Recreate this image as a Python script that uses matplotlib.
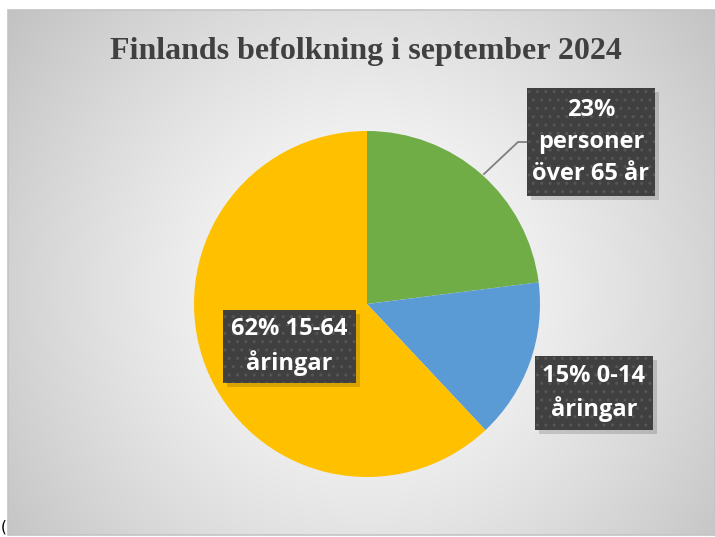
import numpy as np
import matplotlib
matplotlib.use("Agg")
import matplotlib.pyplot as plt
from matplotlib.patches import Rectangle

# ---- data ----
title = "Finlands befolkning i september 2024"
categories = ["personer\növer 65 år", "0-14\nåringar", "15-64\nåringar"]
shares = [23, 15, 62]
colors = ["#70AD47", "#5B9BD5", "#FFC000"]

W, H = 715, 537
fig = plt.figure(figsize=(W / 100, H / 100), dpi=100)
ax = fig.add_axes([0, 0, 1, 1])

# chart area with radial gradient
x0, x1, yt, yb = 8, 715, 10, 535
gx = np.linspace(x0, x1, 400)
gy = np.linspace(yt, yb, 300)
GX, GY = np.meshgrid(gx, gy)
d = np.sqrt((GX - 367) ** 2 + (GY - 290) ** 2) / 470.0
d = np.clip(d, 0, 1)
val = 1.0 - 0.25 * d ** 1.3
img = np.dstack([val, val, val])
ax.imshow(img, extent=[x0, x1, H - yb, H - yt], origin="upper", zorder=0, interpolation="bilinear")
ax.add_patch(Rectangle((x0, H - yb), x1 - x0, yb - yt, fill=False, ec="#c4c4c4", lw=1.2, zorder=1))

# pie
cx, cy, r = 367, H - 304, 173
ax.pie(shares, colors=colors, startangle=90, counterclock=False, center=(cx, cy), radius=r,
       wedgeprops=dict(linewidth=0), frame=True)
ax.set_xlim(0, W)
ax.set_ylim(0, H)
ax.set_aspect("equal")
ax.axis("off")

# title
ax.text(366, H - 52, title, ha="center", va="center", fontsize=23, fontweight="bold",
        family="Liberation Serif", color="#404040", zorder=5)

# labels
labels = [f"{shares[0]}%\n{categories[0]}",
          f"{shares[1]}% {categories[1]}",
          f"{shares[2]}% {categories[2]}"]
boxes = [(527, 88, 655, 196), (535, 356, 653, 430), (223, 310, 356, 383)]
for lab, (bx0, by0, bx1, by1) in zip(labels, boxes):
    # shadow
    ax.add_patch(Rectangle((bx0 + 4, H - by1 - 4), bx1 - bx0, by1 - by0, fc="#000000", alpha=0.15,
                           lw=0, zorder=6))
    ax.add_patch(Rectangle((bx0, H - by1), bx1 - bx0, by1 - by0, fc="#404040", ec="#565656",
                           hatch="..", lw=0, zorder=7))
    ax.text((bx0 + bx1) / 2, H - (by0 + by1) / 2, lab, ha="center", va="center", color="white",
            fontsize=17, fontweight="bold", family="Open Sans", linespacing=1.42, zorder=8)

# leader line
ax.plot([527, 518, 484], [H - 142, H - 142, H - 174], color="#7f7f7f", lw=1.3, zorder=5)

# stray glyph at bottom-left
ax.text(1, H - 535, "(", fontsize=11, color="black", ha="left", va="bottom", zorder=9)

fig.savefig("out.png", dpi=100)
